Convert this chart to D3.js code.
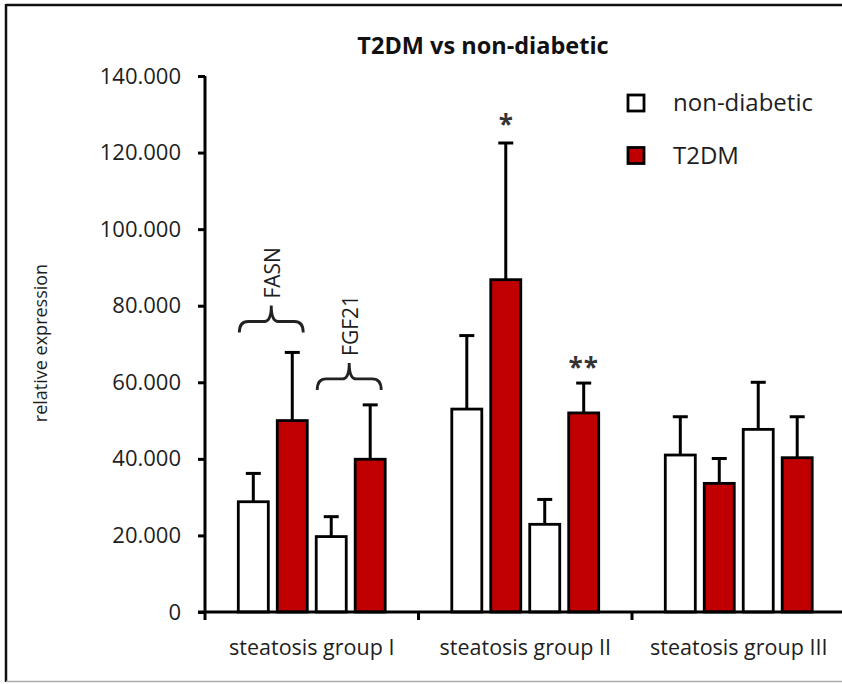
<!DOCTYPE html>
<html>
<head>
<meta charset="utf-8">
<script src="https://cdn.jsdelivr.net/npm/d3@7"></script>
<style>
  body { margin: 0; background: #fff; }
  svg { display: block; font-family: "Open Sans", sans-serif; }
</style>
</head>
<body>
<div id="chart"></div>
<script>
var red = '#c00000',
    ink = '#1e1e1e';

// data, values (ordered group I..III, FASN then FGF21)
var categories = ['steatosis group I', 'steatosis group II', 'steatosis group III'];
var genes = ['FASN', 'FGF21'];
var seriesNames = ['non-diabetic', 'T2DM'];
var nonDiabetic = [28800, 19700, 53000, 22900, 41000, 47700];
var nonDiabeticErr = [7400, 5200, 19200, 6500, 10000, 12300];
var t2dm = [50000, 39900, 86800, 52000, 33600, 40300];
var t2dmErr = [17800, 14200, 35700, 7800, 6500, 10700];
var yTicks = [0, 20000, 40000, 60000, 80000, 100000, 120000, 140000];
var starGroup = [1, 1];
var starGene = [0, 1];
var starText = ['*', '**'];
var braceLevel = [73000, 58000]; // brace foot height for FASN, FGF21 in group I

var width = 842, height = 684;
var svg = d3.select('#chart').append('svg').attr('width', width).attr('height', height);

// frame
svg.append('line').attr('x1', 6).attr('x2', 842).attr('y1', 5).attr('y2', 5).attr('stroke', '#111').attr('stroke-width', 2.5);
svg.append('line').attr('x1', 6).attr('x2', 6).attr('y1', 4).attr('y2', 682).attr('stroke', '#111').attr('stroke-width', 2.5);
svg.append('line').attr('x1', 6).attr('x2', 842).attr('y1', 681.5).attr('y2', 681.5).attr('stroke', '#aaa').attr('stroke-width', 1.5);

var y = d3.scaleLinear().domain([0, 140000]).range([612, 76]);
var x0 = d3.scaleBand().domain(categories).range([205, 845.5]);
var x1 = d3.scaleBand().domain([0, 1, 2, 3]).range([33.3, x0.bandwidth() - 33.3]).paddingInner(0.23);
var bw = x1.bandwidth();

var fmt = d3.formatLocale({decimal: ',', thousands: '.', grouping: [3], currency: ['', '']}).format(',');

// bars table
var bars = [];
categories.forEach(function(c, gi) {
    genes.forEach(function(g, ki) {
        var idx = gi * 2 + ki;
        bars.push({cat: c, slot: ki * 2, value: nonDiabetic[idx], err: nonDiabeticErr[idx], color: '#fff'});
        bars.push({cat: c, slot: ki * 2 + 1, value: t2dm[idx], err: t2dmErr[idx], color: red});
    });
});
function bx(d) { return x0(d.cat) + x1(d.slot); }

// error bars (behind bars)
var eb = svg.append('g').attr('stroke', '#000').attr('stroke-width', 3);
eb.selectAll('.err').data(bars).enter().append('line')
    .attr('x1', function(d) { return bx(d) + bw / 2; })
    .attr('x2', function(d) { return bx(d) + bw / 2; })
    .attr('y1', function(d) { return y(d.value); })
    .attr('y2', function(d) { return y(d.value + d.err); });
eb.selectAll('.cap').data(bars).enter().append('line')
    .attr('x1', function(d) { return bx(d) + bw / 2 - 7.5; })
    .attr('x2', function(d) { return bx(d) + bw / 2 + 7.5; })
    .attr('y1', function(d) { return y(d.value + d.err); })
    .attr('y2', function(d) { return y(d.value + d.err); });

svg.append('g').selectAll('rect').data(bars).enter().append('rect')
    .attr('x', function(d) { return bx(d); })
    .attr('y', function(d) { return y(d.value); })
    .attr('width', bw)
    .attr('height', function(d) { return y(0) - y(d.value); })
    .attr('fill', function(d) { return d.color; })
    .attr('stroke', '#000').attr('stroke-width', 2.8);

// y axis
var yAxis = svg.append('g').attr('transform', 'translate(205,0)')
    .call(d3.axisLeft(y).tickValues(yTicks).tickFormat(fmt).tickSize(7).tickPadding(17));
yAxis.select('.domain').attr('stroke', '#000').attr('stroke-width', 3).attr('d', 'M0,' + y(140000) + 'V' + y(0));
yAxis.selectAll('.tick line').attr('stroke', '#000').attr('stroke-width', 3);
yAxis.selectAll('.tick text').attr('font-size', 22).attr('fill', ink).attr('font-family', '"Open Sans", sans-serif');

// x axis
var xAxis = svg.append('g').attr('transform', 'translate(0,' + y(0) + ')');
xAxis.append('line').attr('x1', 198).attr('x2', 842).attr('stroke', '#000').attr('stroke-width', 3);
xAxis.selectAll('.xt').data(categories).enter().append('line')
    .attr('x1', function(d) { return x0(d); }).attr('x2', function(d) { return x0(d); })
    .attr('y1', 0).attr('y2', 8).attr('stroke', '#000').attr('stroke-width', 3);
xAxis.selectAll('.xl').data(categories).enter().append('text')
    .attr('x', function(d) { return x0(d) + x0.bandwidth() / 2; })
    .attr('y', 43).attr('text-anchor', 'middle').attr('font-size', 21.5).attr('fill', ink)
    .text(function(d) { return d; });

// y label
svg.append('text').attr('transform', 'translate(47,343) rotate(-90)')
    .attr('text-anchor', 'middle').attr('font-size', 18).attr('fill', ink).text('relative expression');

// title
svg.append('text').attr('x', 483).attr('y', 54).attr('text-anchor', 'middle')
    .attr('font-size', 23.5).attr('font-weight', 'bold').attr('fill', '#111').text('T2DM vs non-diabetic');

// significance stars
starText.forEach(function(t, i) {
    var d = bars.filter(function(b) { return b.cat === categories[starGroup[i]] && b.slot === starGene[i] * 2 + 1; })[0];
    svg.append('text').attr('x', bx(d) + bw / 2).attr('y', y(d.value + d.err) - (i === 0 ? 6 : 14))
        .attr('text-anchor', 'middle').attr('font-size', 26).attr('font-weight', 'bold').attr('fill', '#333')
        .attr('letter-spacing', i === 0 ? 0 : 1)
        .attr('dy', i === 0 ? '-0.1em' : '0.3em')
        .text(t);
});

// braces over group I genes
genes.forEach(function(g, ki) {
    var left = x0(categories[0]) + x1(ki * 2) + 1;
    var right = x0(categories[0]) + x1(ki * 2 + 1) + bw - 4;
    var xc = (left + right) / 2;
    var yEnd = y(braceLevel[ki]), yH = yEnd - 11, yP = yEnd - 27;
    var p = d3.path();
    p.moveTo(left, yEnd);
    p.quadraticCurveTo(left, yH, left + 9, yH);
    p.lineTo(xc - 7, yH);
    p.quadraticCurveTo(xc, yH, xc, yP);
    p.quadraticCurveTo(xc, yH, xc + 7, yH);
    p.lineTo(right - 9, yH);
    p.quadraticCurveTo(right, yH, right, yEnd);
    svg.append('path').attr('d', p.toString()).attr('fill', 'none').attr('stroke', '#222').attr('stroke-width', 2.8);
    svg.append('text').attr('transform', 'translate(' + (xc + 1) + ',' + (yP - 7) + ') rotate(-90)')
        .attr('dy', '0.35em').attr('font-size', 21).attr('fill', ink).text(g);
});

// legend
var legend = svg.append('g').attr('transform', 'translate(628,95)');
seriesNames.forEach(function(s, i) {
    legend.append('rect').attr('x', 0).attr('y', i * 52.5).attr('width', 16).attr('height', 16)
        .attr('fill', i === 0 ? '#fff' : red).attr('stroke', '#000').attr('stroke-width', 2.8);
    legend.append('text').attr('x', 45).attr('y', i * 52.5 + 8).attr('dy', '0.35em')
        .attr('font-size', 24).attr('fill', ink).text(s);
});
</script>
</body>
</html>
